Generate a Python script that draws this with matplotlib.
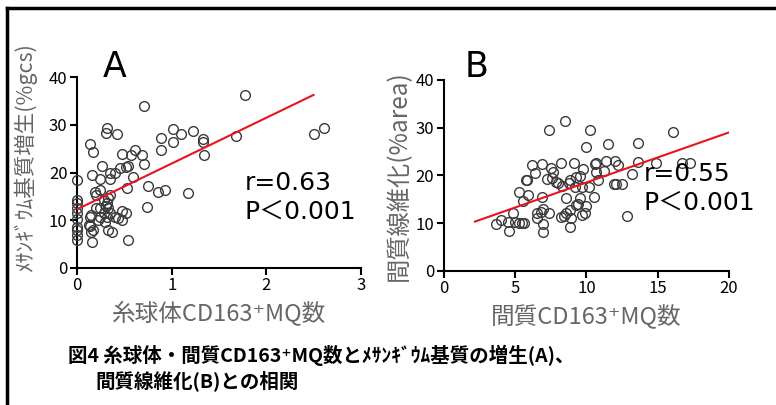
import matplotlib
matplotlib.use("Agg")
import matplotlib.pyplot as plt
from matplotlib.lines import Line2D

plt.rcParams['font.family'] = ['Noto Sans CJK JP', 'DejaVu Sans']

# panel A: glomerular CD163+ MQ vs mesangial matrix
a_x = [0, 0, 0, 0, 0, 0, 0, 0, 0, 0,
       0.13, 0.17, 0.155, 0.31, 0.30, 0.42, 0.26, 0.24, 0.35, 0.40,
       0.35, 0.47, 0.57, 0.61, 0.69, 0.71, 0.45, 0.52, 0.54, 0.59,
       0.71, 0.75, 0.74, 0.85, 0.93, 0.89, 0.89, 1.01, 1.01, 1.10,
       1.22, 1.17, 1.33, 1.33, 1.34, 1.68, 1.78, 2.51, 2.61, 0.53,
       0.13, 0.15, 0.13, 0.17, 0.15, 0.16, 0.12, 0.19, 0.20, 0.24,
       0.20, 0.24, 0.22, 0.24, 0.28, 0.28, 0.31, 0.33, 0.35, 0.31,
       0.29, 0.35, 0.33, 0.40, 0.43, 0.47, 0.47, 0.52, 0.33, 0.37,
       0.54, 0.30]
a_y = [18.5, 14.3, 13.5, 12.5, 11.4, 10.3, 8.6, 7.9, 6.9, 5.9,
       25.9, 24.3, 19.5, 29.3, 28.4, 28.2, 21.4, 18.6, 19.8, 20.0,
       18.6, 23.9, 23.7, 24.7, 23.7, 21.7, 21.0, 21.2, 21.4, 19.1,
       34.0, 17.2, 12.8, 16.0, 16.3, 27.3, 24.7, 29.1, 26.4, 28.2,
       28.8, 15.6, 27.1, 26.5, 23.7, 27.7, 36.2, 28.1, 29.3, 16.7,
       10.7, 11.1, 8.8, 7.9, 7.6, 5.5, 9.0, 16.0, 15.3, 16.3,
       12.5, 12.5, 10.0, 10.7, 11.4, 14.2, 13.5, 12.5, 11.4, 10.7,
       9.7, 15.3, 14.6, 10.7, 10.4, 10.0, 11.9, 11.6, 7.9, 7.6,
       5.9, 13.0]
a_fit_x = [0, 2.5]
a_fit_y = [12.3, 36.3]

# panel B: interstitial CD163+ MQ vs interstitial fibrosis
b_x = [3.63, 4.0, 4.5, 4.56, 4.87, 4.98, 5.29, 5.45, 5.64, 5.29,
       5.52, 5.75, 5.85, 5.87, 6.2, 6.4, 6.5, 6.5, 6.8, 6.85,
       6.9, 6.98, 6.98, 6.98, 7.2, 7.37, 7.4, 7.5, 7.6, 7.67,
       7.86, 8.0, 8.2, 8.26, 8.2, 8.4, 8.56, 8.5, 8.6, 8.77,
       8.84, 8.84, 8.9, 8.84, 9.15, 9.2, 9.3, 9.3, 9.4, 9.54,
       9.54, 9.66, 9.7, 9.78, 9.9, 9.94, 10.0, 10.2, 10.25, 10.5,
       10.6, 10.7, 10.7, 10.8, 11.2, 11.5, 11.4, 11.9, 12.0, 12.07,
       12.2, 12.5, 12.85, 13.2, 13.6, 13.6, 14.9, 16.05, 16.7, 17.3]
b_y = [9.7, 10.7, 10.3, 8.3, 12.2, 10.3, 10.1, 10.1, 10.1, 16.6,
       14.7, 19.0, 19.0, 15.9, 22.1, 20.4, 12.2, 11.1, 12.4, 15.5,
       22.4, 9.9, 8.2, 12.9, 19.3, 29.5, 12.2, 21.6, 19.5, 20.8,
       18.5, 18.4, 22.6, 17.8, 11.2, 11.4, 12.2, 31.3, 15.2, 18.4,
       19.0, 12.8, 11.0, 9.2, 22.6, 17.5, 19.7, 13.8, 14.0, 15.2,
       19.9, 11.7, 17.5, 21.4, 12.2, 26.0, 13.5, 17.5, 29.5, 15.4,
       22.4, 20.8, 22.6, 19.0, 21.0, 26.5, 23.1, 18.1, 23.1, 18.1,
       22.1, 18.1, 11.4, 20.3, 26.8, 22.9, 22.5, 29.1, 22.5, 22.5]
b_fit_x = [2.18, 20]
b_fit_y = [10.3, 29.0]

fig = plt.figure(figsize=(7.76, 4.05), dpi=100)

panels = [
    ([0.0996, 0.339, 0.3652, 0.470], a_x, a_y, a_fit_x, a_fit_y, 3, [0, 1, 2, 3],
     'ﾒｻﾝｷﾞｳﾑ基質増生(%gcs)', 15.5, (-0.142, 0.58), '糸球体CD163⁺MQ数',
     'A', 0.09, 1.0, 0.59, 0.51, 'r=0.63\nP＜0.001'),
    ([0.572, 0.3316, 0.3674, 0.4709], b_x, b_y, b_fit_x, b_fit_y, 20, [0, 5, 10, 15, 20],
     '間質線維化(%area)', 17.5, (-0.112, 0.5), '間質CD163⁺MQ数',
     'B', 0.074, 1.015, 0.70, 0.57, 'r=0.55\nP＜0.001'),
]

for (rect, xs, ys, fx, fy, xmax, xticks, ylab, ylab_size, ylab_pos, xlab,
     letter, lx, ly, sx, sy, stat) in panels:
    ax = fig.add_axes(rect)
    ax.plot(xs, ys, 'o', mfc='none', mec='#3a3a3a', ms=7, mew=1.0, clip_on=False, zorder=3)
    ax.plot(fx, fy, color='#e8141c', lw=1.5, zorder=4)
    ax.set_xlim(0, xmax)
    ax.set_ylim(0, 40)
    ax.set_xticks(xticks)
    ax.set_yticks([0, 10, 20, 30, 40])
    for s in ['top', 'right']:
        ax.spines[s].set_visible(False)
    for s in ['left', 'bottom']:
        ax.spines[s].set_linewidth(1.5)
    ax.tick_params(width=1.5, length=5, labelsize=12, pad=2)
    ax.set_ylabel(ylab, fontsize=ylab_size, color='#666666')
    ax.yaxis.set_label_coords(*ylab_pos)
    ax.set_xlabel(xlab, fontsize=17, color='#666666', labelpad=5)
    ax.text(lx, ly, letter, transform=ax.transAxes, fontsize=25,
            family=['DejaVu Sans'], va='baseline', ha='left')
    ax.text(sx, sy, stat, transform=ax.transAxes, fontsize=18,
            family=['DejaVu Sans', 'Noto Sans CJK JP'],
            va='top', ha='left', linespacing=1.25)

# caption
fig.text(68 / 776, 1 - 355 / 405, '図4 糸球体・間質CD163⁺MQ数とﾒｻﾝｷﾞｳﾑ基質の増生(A)、',
         fontsize=14, fontweight='bold', va='center', ha='left')
fig.text(95 / 776, 1 - 381 / 405, '間質線維化(B)との相関',
         fontsize=14, fontweight='bold', va='center', ha='left')

# frame lines
fig.add_artist(Line2D([7 / 776, 1], [1 - 8 / 405, 1 - 8 / 405], color='black', lw=2.5))
fig.add_artist(Line2D([7 / 776, 7 / 776], [1 - 8 / 405, 0], color='black', lw=2.5))

fig.savefig('out.png', dpi=100)
